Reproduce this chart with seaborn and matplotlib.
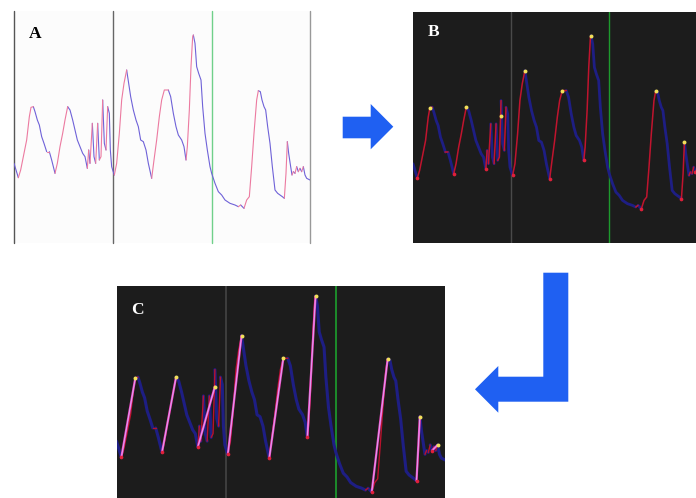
import numpy as np
import pandas as pd
import matplotlib
matplotlib.use("Agg")
import matplotlib.pyplot as plt
from matplotlib.patches import Polygon
import seaborn as sns

sns.set_theme(style="white")

# Recorded trace: sample index and amplitude (arbitrary units)
sample = [0, 13, 20, 28, 38, 46, 51, 58, 63, 70, 76, 83, 90, 98, 106, 113, 123, 130, 138, 146,
          153, 161, 168, 176, 183, 190, 198, 206, 213, 220, 224, 228, 235, 240, 245, 251, 256, 261,
          266, 271, 276, 281, 286, 289, 293, 296,
          301, 308, 316, 323, 330, 338, 344, 350, 358, 366, 373, 380, 388, 396, 403, 413, 420, 428,
          436, 443, 451, 463, 470, 478, 486, 493, 503, 510, 516, 520, 526, 531, 536, 538, 543, 548,
          554, 561, 566, 573, 580, 588, 593,
          603, 613, 623, 633, 648, 663, 673, 680, 690, 698, 706, 713, 720, 728, 733, 739, 744, 750,
          755, 761, 768, 775, 783, 791, 798, 805, 811, 816, 820, 824, 830, 834, 838, 843, 848, 853,
          858, 863, 868, 873, 878, 888]
amplitude = [110, 67, 90, 130, 180, 250, 278, 280, 265, 240, 225, 190, 170, 145, 145, 120, 80, 110, 160, 200,
             240, 280, 270, 240, 210, 180, 160, 140, 130, 95, 150, 110, 230, 130, 110, 230, 120, 130,
             300, 170, 150, 280, 260, 150, 100, 90,
             75, 110, 200, 300, 350, 390, 350, 310, 270, 240, 220, 180, 175, 150, 110, 65, 120, 180,
             250, 300, 330, 330, 310, 260, 220, 195, 180, 160, 120, 160, 270, 400, 490, 495, 470, 400,
             380, 360, 280, 200, 150, 100, 80,
             50, 25, 15, 0, -10, -15, -20, -15, -25, 0, 10, 100, 200, 300, 328, 325, 300, 280,
             270, 220, 170, 100, 30, 20, 15, 10, 5, 80, 175, 140, 100, 75, 85, 80, 100, 85,
             95, 85, 100, 75, 65, 60]

# Detected cycle extrema
peak_sample = [51, 161, 266, 338, 451, 538, 733, 820, 868]
peak_amp = [278, 280, 255, 390, 330, 495, 328, 175, 100]
trough_sample = [13, 123, 220, 301, 413, 516, 690, 811, 853]
trough_amp = [67, 80, 95, 75, 65, 120, -25, 5, 85]

segment_bounds = [0, 296, 593, 888]

# Split the trace into monotone runs so rising and falling parts get their own colour
rows = []
piece = 0
prev_dir = None
for i in range(1, len(sample)):
    d = "rise" if amplitude[i] >= amplitude[i - 1] else "fall"
    if d != prev_dir:
        piece += 1
        prev_dir = d
        rows.append(dict(t=sample[i - 1], v=amplitude[i - 1], dir=d, piece=piece))
    rows.append(dict(t=sample[i], v=amplitude[i], dir=d, piece=piece))
trace = pd.DataFrame(rows)

peaks = pd.DataFrame(dict(t=peak_sample, v=peak_amp))
troughs = pd.DataFrame(dict(t=trough_sample, v=trough_amp))
fit_rows = []
for k, (ts, tv, ps, pv) in enumerate(zip(trough_sample, trough_amp, peak_sample, peak_amp)):
    fit_rows.append(dict(t=ts, v=tv, pair=k))
    fit_rows.append(dict(t=ps, v=pv, pair=k))
fits = pd.DataFrame(fit_rows)

W, H = 696, 498
fig = plt.figure(figsize=(W / 100, H / 100), dpi=100)
fig.patch.set_facecolor("white")


def px_axes(x0, y0, x1, y1):
    return fig.add_axes([x0 / W, 1 - y1 / H, (x1 - x0) / W, (y1 - y0) / H])


def clean(ax, bg):
    ax.set_facecolor(bg)
    for s in ax.spines.values():
        s.set_visible(False)
    ax.set_xticks([])
    ax.set_yticks([])
    ax.set_xlabel("")
    ax.set_ylabel("")


DARK = "#1c1c1c"
DEEP_BLUE = "#1e1e84"

# ---- Panel A: raw trace ----
axA = px_axes(14, 11, 310, 243)
for b, c in zip(segment_bounds, ["#555555", "#666666", "#70d08a", "#999999"]):
    axA.axvline(b, color=c, lw=1.0, clip_on=False, zorder=1)
sns.lineplot(data=trace, x="t", y="v", hue="dir", units="piece", estimator=None, sort=False,
             palette={"rise": "#ec7aa0", "fall": "#6f62d8"}, lw=0.8, legend=False, ax=axA, zorder=3)
axA.set_xlim(0, 888)
axA.set_ylim(-129, 567)
clean(axA, "#fcfcfc")

# ---- Panel B: extrema detection ----
axB = px_axes(413, 11.7, 696, 243.3)
for b, c in zip(segment_bounds[1:3], ["#4a4a4a", "#1d9a2d"]):
    axB.axvline(b, color=c, lw=1.0, zorder=1)
sns.lineplot(data=trace[trace.dir == "fall"], x="t", y="v", units="piece", estimator=None, sort=False,
             color=DEEP_BLUE, lw=2.0, legend=False, ax=axB, zorder=3)
sns.lineplot(data=trace[trace.dir == "rise"], x="t", y="v", units="piece", estimator=None, sort=False,
             color="#c0142e", lw=1.1, legend=False, ax=axB, zorder=4)
sns.scatterplot(data=troughs, x="t", y="v", color="#e0203a", s=7, linewidth=0, ax=axB, zorder=5)
sns.scatterplot(data=peaks, x="t", y="v", color="#f2e05a", s=8, linewidth=0, ax=axB, zorder=6)
axB.set_xlim(0, 855)
axB.set_ylim(-129, 567)
clean(axB, DARK)

# ---- Panel C: rising-phase fits ----
axC = px_axes(116.5, 286, 445, 498)
for b, c in zip(segment_bounds[1:3], ["#444444", "#1da02d"]):
    axC.axvline(b, color=c, lw=1.2, zorder=1)
sns.lineplot(data=trace[trace.dir == "fall"], x="t", y="v", units="piece", estimator=None, sort=False,
             color=DEEP_BLUE, lw=2.2, legend=False, ax=axC, zorder=3)
sns.lineplot(data=trace[trace.dir == "rise"], x="t", y="v", units="piece", estimator=None, sort=False,
             color="#b8122c", lw=1.0, legend=False, ax=axC, zorder=4)
sns.lineplot(data=fits, x="t", y="v", units="pair", estimator=None, sort=False,
             color="#f04cc6", lw=1.6, legend=False, ax=axC, zorder=5)
sns.lineplot(data=fits, x="t", y="v", units="pair", estimator=None, sort=False,
             color="#d8b8ff", lw=0.5, legend=False, ax=axC, zorder=6)
sns.scatterplot(data=troughs, x="t", y="v", color="#e0203a", s=7, linewidth=0, ax=axC, zorder=7)
sns.scatterplot(data=peaks, x="t", y="v", color="#f2e05a", s=8, linewidth=0, ax=axC, zorder=8)
axC.set_xlim(0, 888)
axC.set_ylim(-41, 522)
clean(axC, DARK)

# ---- Panel letters ----
for label, (x, y), col in [("A", (35.5, 33.5), "black"), ("B", (433.7, 32.5), "white"),
                           ("C", (137.8, 310), "white")]:
    fig.text(x / W, 1 - y / H, label, family="Liberation Serif", weight="bold", fontsize=12.5,
             color=col, ha="center", va="center")

# ---- Flow arrows ----
over = fig.add_axes([0, 0, 1, 1], zorder=10)
over.set_xlim(0, W)
over.set_ylim(H, 0)
over.axis("off")
over.patch.set_alpha(0)
ARROW = "#1f60f2"
right_arrow = [(342.7, 116.7), (370.7, 116.7), (370.7, 104), (393.3, 126.7), (370.7, 149.3),
               (370.7, 138.3), (342.7, 138.3)]
hook_arrow = [(543.3, 272.7), (568.3, 272.7), (568.3, 401.7), (498.3, 401.7), (498.3, 412.7),
              (475, 389.3), (498.3, 366), (498.3, 376.7), (543.3, 376.7)]
for shape in (right_arrow, hook_arrow):
    over.add_patch(Polygon(shape, closed=True, facecolor=ARROW, edgecolor="none"))

fig.savefig("out.png", dpi=100, facecolor="white")
